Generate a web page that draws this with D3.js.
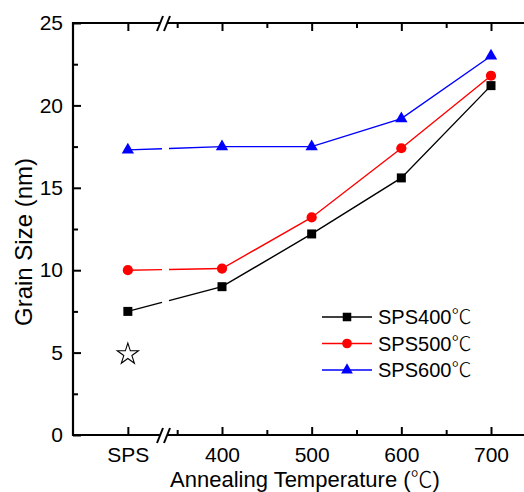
<!DOCTYPE html>
<html>
<head>
<meta charset="utf-8">
<script src="https://cdn.jsdelivr.net/npm/d3@7"></script>
<style>
  body { margin: 0; background: #fff; }
  svg text { font-family: "Liberation Sans", Arial, sans-serif; fill: #000; }
  .cjk { font-family: "Noto Sans CJK SC", sans-serif; font-weight: 300; }
</style>
</head>
<body>
<div id="chart"></div>
<script>
// x categories (SPS = as sintered, then annealing temps)
var categories = ["SPS", 400, 500, 600, 700];
var yTicks = [0, 5, 10, 15, 20, 25];

// grain size (nm) for each sintering temperature
var sps400 = [7.5, 9.0, 12.2, 15.6, 21.2];
var sps500 = [10.0, 10.1, 13.2, 17.4, 21.8];
var sps600 = [17.3, 17.5, 17.5, 19.2, 23.0];
// the open star at SPS
var starValue = 4.9;

var seriesNames = ["SPS400", "SPS500", "SPS600"];
var unit = "\u2103";

var width = 524, height = 492;
// note: "top" is taken by window.top, so plotTop etc.
var plotLeft = 73, plotTop = 23, plotBottom = 435, plotRight = 540;
// where SPS sits on the broken axis (in temperature units)
var spsAt = 295;

var svg = d3.select("#chart")
  .append("svg")
  .attr("width", width)
  .attr("height", height);

var x = d3.scaleLinear().domain([400, 700]).range([222, 491]);
var y = d3.scaleLinear().domain([0, 25]).range([plotBottom, plotTop]);

function xPos(c) {
  return c === "SPS" ? x(spsAt) : x(c);
}
var tickVals = categories.map(c => c === "SPS" ? spsAt : c);
var minorX = [350, 450, 550, 650, 750];
var minorY = [2.5, 7.5, 12.5, 17.5, 22.5];

// ---- axes
svg.append("g")
  .attr("transform", "translate(0," + plotBottom + ")")
  .call(d3.axisBottom(x).tickValues(tickVals).tickSize(-8).tickPadding(12)
    .tickFormat(d => d === spsAt ? "SPS" : d));
svg.append("g")
  .attr("transform", "translate(0," + plotBottom + ")")
  .call(d3.axisBottom(x).tickValues(minorX).tickSize(-5).tickFormat(""));
svg.append("g")
  .attr("transform", "translate(0," + plotTop + ")")
  .call(d3.axisTop(x).tickValues(tickVals).tickSize(-8).tickFormat(""));
svg.append("g")
  .attr("transform", "translate(0," + plotTop + ")")
  .call(d3.axisTop(x).tickValues(minorX).tickSize(-5).tickFormat(""));
svg.append("g")
  .attr("transform", "translate(" + plotLeft + ",0)")
  .call(d3.axisLeft(y).tickValues(yTicks).tickSize(-8).tickPadding(10));
svg.append("g")
  .attr("transform", "translate(" + plotLeft + ",0)")
  .call(d3.axisLeft(y).tickValues(minorY).tickSize(-5).tickFormat(""));

svg.selectAll(".domain").remove();
svg.selectAll(".tick line").attr("stroke", "#000").attr("stroke-width", 2);
svg.selectAll(".tick text").style("font-size", "21px");

// axis lines with the break
var gapL = 160, gapR = 167;
[plotTop, plotBottom].forEach(yy => {
  svg.append("line").attr("x1", plotLeft - 1).attr("x2", gapL).attr("y1", yy).attr("y2", yy)
    .attr("stroke", "#000").attr("stroke-width", 2.2);
  svg.append("line").attr("x1", gapR).attr("x2", plotRight).attr("y1", yy).attr("y2", yy)
    .attr("stroke", "#000").attr("stroke-width", 2.2);
  [157, 164].forEach(sx => {
    svg.append("line").attr("x1", sx).attr("y1", yy + 8).attr("x2", sx + 6).attr("y2", yy - 7)
      .attr("stroke", "#000").attr("stroke-width", 2);
  });
});
svg.append("line").attr("x1", plotLeft).attr("x2", plotLeft).attr("y1", plotTop - 1).attr("y2", plotBottom + 1)
  .attr("stroke", "#000").attr("stroke-width", 2.2);

// ---- series
var series = [
  { name: seriesNames[0], values: sps400, color: "#000000", symbol: d3.symbolSquare, size: 81 },
  { name: seriesNames[1], values: sps500, color: "#ff0000", symbol: d3.symbolCircle, size: 82 },
  { name: seriesNames[2], values: sps600, color: "#0000ff", symbol: d3.symbolTriangle, size: 66 }
];
var cutA = 162, cutB = 169;

series.forEach(s => {
  var pts = s.values.map((v, i) => [xPos(categories[i]), y(v)]);
  // first segment is interrupted at the axis break
  var p0 = pts[0], p1 = pts[1];
  function at(xx) {
    var t = (xx - p0[0]) / (p1[0] - p0[0]);
    return [xx, p0[1] + t * (p1[1] - p0[1])];
  }
  var line = d3.line();
  svg.append("path").attr("d", line([p0, at(cutA)]))
    .attr("fill", "none").attr("stroke", s.color).attr("stroke-width", 1.4);
  svg.append("path").attr("d", line([at(cutB)].concat(pts.slice(1))))
    .attr("fill", "none").attr("stroke", s.color).attr("stroke-width", 1.4);

  svg.selectAll(null).data(pts).enter()
    .append("path")
    .attr("transform", d => "translate(" + d[0] + "," + d[1] + ")")
    .attr("d", d3.symbol().type(s.symbol).size(s.size))
    .attr("fill", s.color);
});

// star
svg.append("path")
  .attr("transform", "translate(" + xPos("SPS") + "," + y(starValue) + ")")
  .attr("d", d3.symbol().type(d3.symbolStar).size(140))
  .attr("fill", "#fff").attr("stroke", "#000").attr("stroke-width", 1.1);

// ---- legend
var legend = svg.append("g").attr("transform", "translate(322,317)");
series.forEach((s, i) => {
  var g = legend.append("g").attr("transform", "translate(0," + i * 26.5 + ")");
  g.append("line").attr("x1", 0).attr("x2", 50).attr("stroke", s.color).attr("stroke-width", 1.4);
  g.append("path").attr("transform", "translate(25,0)")
    .attr("d", d3.symbol().type(s.symbol).size(s.size * 0.9)).attr("fill", s.color);
  var t = g.append("text").attr("x", 56).attr("dy", "0.36em")
    .style("font-size", "20px").text(s.name);
  t.append("tspan").attr("class", "cjk").text(unit);
});

// ---- titles
var xt = svg.append("text")
  .attr("x", 305).attr("y", 487)
  .attr("text-anchor", "middle")
  .style("font-size", "22px")
  .text("Annealing Temperature (");
xt.append("tspan").attr("class", "cjk").text(unit);
xt.append("tspan").text(")");
svg.append("text")
  .attr("transform", "translate(32,242) rotate(-90)")
  .attr("text-anchor", "middle")
  .style("font-size", "24px")
  .text("Grain Size (nm)");
</script>
</body>
</html>
